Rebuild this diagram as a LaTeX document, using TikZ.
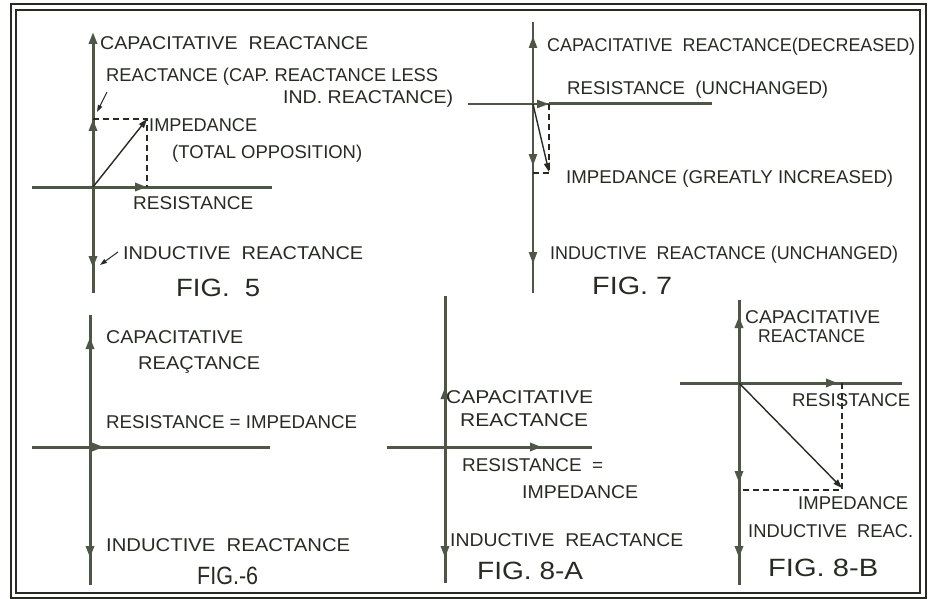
\documentclass[tikz,border=0pt]{standalone}
\usepackage{fontspec}
\setmainfont{Liberation Sans}
\usetikzlibrary{arrows.meta}
\definecolor{axc}{HTML}{4E5745}
\definecolor{inkc}{HTML}{272B22}
\newcommand{\fitw}[2]{\resizebox{#1pt}{\height}{#2}}
\tikzset{
  ax/.style={draw=axc,line width=3pt},
  axt/.style={draw=axc,line width=2.2pt},
  arr/.style={-{Triangle[length=12pt,width=8pt]}},
  sarr/.style={-{Triangle[length=9pt,width=6pt]}},
  thinl/.style={draw=inkc,line width=1.4pt},
  dsh/.style={draw=inkc,line width=1.4pt,dash pattern=on 6pt off 4pt},
  ptr/.style={draw=inkc,line width=1pt,-{Triangle[length=7pt,width=4.5pt]}},
  lbl/.style={anchor=base west,inner sep=0pt,text=inkc,yshift=-6.6pt,font=\fontsize{18.5}{18.5}\selectfont},
  figl/.style={anchor=base west,inner sep=0pt,text=inkc,yshift=-9pt,font=\fontsize{25}{25}\selectfont},
  frame/.style={draw=inkc,line width=1.4pt}
}
\begin{document}
\begin{tikzpicture}[x=1pt,y=-1pt]
\useasboundingbox (0,0) rectangle (934,599);
\fill[white] (0,0) rectangle (934,599);
% frame
\draw[frame] (11,4) rectangle (926,598);
\draw[frame] (16,10) rectangle (920,593);

% ---------------- FIG. 5
\coordinate (O5) at (93,187);
\coordinate (T5) at (93,32);
\coordinate (B5) at (93,293);
\coordinate (L5) at (32,187);
\coordinate (R5) at (272,187);
\coordinate (X5) at (147,187);
\coordinate (Y5) at (93,119);
\coordinate (Z5) at (147,119);
\coordinate (D5) at (93,268);
\coordinate (P5a) at (107,92);
\coordinate (Q5a) at (97,112);
\coordinate (P5b) at (118,252);
\coordinate (Q5b) at (100,265);
\draw[ax] (L5) -- (R5);
\draw[ax,arr] (B5) -- (T5);
\draw[ax,arr] (O5) -- (Y5);
\draw[ax,arr] (O5) -- (D5);
\draw[ax,arr] (O5) -- (X5);
\draw[thinl,sarr] (O5) -- (Z5);
\draw[dsh] (Y5) -- (Z5) -- (X5);
\draw[ptr] (P5a) -- (Q5a);
\draw[ptr] (P5b) -- (Q5b);
\node[lbl] (c5) at (100,43) {\fitw{268}{CAPACITATIVE\ \ REACTANCE}};
\node[lbl] (r5a) at (106,75) {\fitw{332}{REACTANCE (CAP. REACTANCE LESS}};
\node[lbl] (r5b) at (283,97) {\fitw{170}{IND. REACTANCE)}};
\node[lbl] (i5) at (149,125) {\fitw{108}{IMPEDANCE}};
\node[lbl] (t5) at (172,152) {\fitw{190}{(TOTAL OPPOSITION)}};
\node[lbl] (res5) at (133,203) {\fitw{120}{RESISTANCE}};
\node[lbl] (ind5) at (123,253) {\fitw{240}{INDUCTIVE\ \ REACTANCE}};
\node[figl] (f5) at (176,287) {\fitw{84}{FIG.\ \ 5}};

% ---------------- FIG. 7
\coordinate (O7) at (533,104);
\coordinate (T7) at (533,22);
\coordinate (U7) at (533,36);
\coordinate (B7) at (533,293);
\coordinate (L7) at (468,104);
\coordinate (R7) at (712,104);
\coordinate (X7) at (549,104);
\coordinate (Y7) at (533,166);
\coordinate (Z7) at (549,172);
\coordinate (W7) at (552,173);
\coordinate (V7) at (533,173);
\coordinate (D7) at (533,264);
\draw[axt] (L7) -- (R7);
\draw[draw=axc,line width=3pt] (X7) -- (R7);
\draw[axt] (B7) -- (T7);
\draw[axt,arr] (O7) -- (U7);
\draw[axt,arr] (O7) -- (Y7);
\draw[axt,arr] (O7) -- (D7);
\draw[axt,arr] (O7) -- (X7);
\draw[thinl,sarr] (O7) -- (Z7);
\draw[dsh] (X7) -- (Z7);
\draw[dsh] (V7) -- (W7);
\node[lbl] (c7) at (547,45) {\fitw{368}{CAPACITATIVE\ \ REACTANCE(DECREASED)}};
\node[lbl] (res7) at (567,88) {\fitw{261}{RESISTANCE\ \ (UNCHANGED)}};
\node[lbl] (imp7) at (566,177) {\fitw{327}{IMPEDANCE (GREATLY INCREASED)}};
\node[lbl] (ind7) at (550,253) {\fitw{348}{INDUCTIVE\ \ REACTANCE (UNCHANGED)}};
\node[figl] (f7) at (592,285) {\fitw{80}{FIG. 7}};

% ---------------- FIG. 6
\coordinate (O6) at (90,447);
\coordinate (T6) at (90,315);
\coordinate (U6) at (90,337);
\coordinate (B6) at (90,585);
\coordinate (L6) at (32,447);
\coordinate (R6) at (270,447);
\coordinate (X6) at (104,447);
\coordinate (D6) at (90,558);
\draw[ax] (L6) -- (R6);
\draw[ax] (B6) -- (T6);
\draw[ax,arr] (O6) -- (U6);
\draw[ax,arr] (O6) -- (D6);
\draw[ax,arr] (O6) -- (X6);
\node[lbl] (c6) at (106,337) {\fitw{137}{CAPACITATIVE}};
\node[lbl] (r6) at (138,363) {\fitw{122}{REAÇTANCE}};
\node[lbl] (ri6) at (106,422) {\fitw{251}{RESISTANCE = IMPEDANCE}};
\node[lbl] (ind6) at (106,545) {\fitw{244}{INDUCTIVE\ \ REACTANCE}};
\node[figl] (f6) at (197,575) {\fitw{61}{FIG.-6}};

% ---------------- FIG. 8-A
\coordinate (O8) at (445,447);
\coordinate (T8) at (445,296);
\coordinate (U8) at (445,387);
\coordinate (B8) at (445,583);
\coordinate (L8) at (387,447);
\coordinate (R8) at (592,447);
\coordinate (X8) at (542,447);
\coordinate (D8) at (445,558);
\draw[ax] (L8) -- (R8);
\draw[ax] (B8) -- (T8);
\draw[ax,arr] (O8) -- (U8);
\draw[ax,arr] (O8) -- (D8);
\draw[ax,arr] (O8) -- (X8);
\node[lbl] (c8a) at (446,397) {\fitw{147}{CAPACITATIVE}};
\node[lbl] (r8a) at (460,420) {\fitw{128}{REACTANCE}};
\node[lbl] (rs8a) at (462,465) {\fitw{141}{RESISTANCE\ \ =}};
\node[lbl] (im8a) at (522,492) {\fitw{116}{IMPEDANCE}};
\node[lbl] (ind8a) at (450,540) {\fitw{233}{INDUCTIVE\ \ REACTANCE}};
\node[figl] (f8a) at (477,570) {\fitw{106}{FIG. 8-A}};

% ---------------- FIG. 8-B
\coordinate (O9) at (739,383);
\coordinate (T9) at (739,300);
\coordinate (U9) at (739,316);
\coordinate (B9) at (739,585);
\coordinate (L9) at (680,383);
\coordinate (R9) at (902,383);
\coordinate (X9) at (838,383);
\coordinate (K9) at (842,383);
\coordinate (Z9) at (842,488);
\coordinate (W9) at (842,490);
\coordinate (V9) at (739,490);
\coordinate (Y9) at (739,483);
\coordinate (D9) at (739,558);
\draw[ax] (L9) -- (R9);
\draw[ax] (B9) -- (T9);
\draw[ax,arr] (O9) -- (U9);
\draw[ax,arr] (O9) -- (Y9);
\draw[ax,arr] (O9) -- (D9);
\draw[ax,arr] (O9) -- (X9);
\draw[thinl,sarr] (O9) -- (Z9);
\draw[dsh] (K9) -- (W9) -- (V9);
\node[lbl] (c8b) at (745,317) {\fitw{135}{CAPACITATIVE}};
\node[lbl] (r8b) at (758,336) {\fitw{107}{REACTANCE}};
\node[lbl] (rs8b) at (792,400) {\fitw{118}{RESISTANCE}};
\node[lbl] (im8b) at (798,503) {\fitw{110}{IMPEDANCE}};
\node[lbl] (ind8b) at (748,531) {\fitw{165}{INDUCTIVE\ \ REAC.}};
\node[figl] (f8b) at (768,567) {\fitw{110}{FIG. 8-B}};
\end{tikzpicture}
\end{document}
